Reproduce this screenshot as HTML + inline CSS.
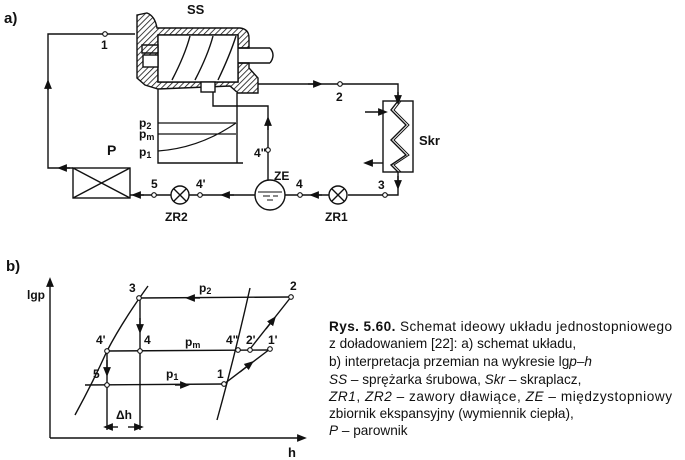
<!DOCTYPE html>
<html><head><meta charset="utf-8"><style>
html,body{margin:0;padding:0;background:#fff;}
svg{display:block}
text{font-family:"Liberation Sans",Arial,sans-serif;font-weight:bold;fill:#111}
.cap{font-family:"Liberation Sans",sans-serif;font-weight:normal;font-size:13.6px;fill:#111}
</style></head><body>
<svg width="685" height="460" viewBox="0 0 685 460" xmlns="http://www.w3.org/2000/svg">
<defs>
<pattern id="h" width="4" height="4" patternUnits="userSpaceOnUse" patternTransform="rotate(45)">
<rect width="4" height="4" fill="#fff"/><line x1="0" y1="0" x2="0" y2="4" stroke="#111" stroke-width="1.6"/></pattern>
<marker id="a" viewBox="0 0 10 10" refX="5" refY="5" markerWidth="7" markerHeight="7" orient="auto"><path d="M0,1 L10,5 L0,9 z" fill="#111"/></marker>
</defs>
<g stroke="#111" stroke-width="1.4" fill="none">
<text x="4" y="23" font-size="15" stroke="none">a)</text>
<text x="187" y="14" font-size="13" stroke="none">SS</text>
<path d="M137,15 L147,13 Q155,16 157,28 L240,28 Q249,29 249,38 L249,48 L238,48 L238,35 L158,35 L158,82 L238,82 L238,63 L249,63 L249,68 L258,78 L258,93 L238,93 L230,86 L158,89 L145,85 L137,78 Z" fill="url(#h)"/>
<rect x="158" y="35" width="80" height="47" fill="#fff"/>
<path d="M142,45 L158,45 L158,53 L142,53 Z" fill="url(#h)"/>
<rect x="143" y="55" width="15" height="12" fill="#fff"/>
<path d="M172,80 Q185,55 190,36 M195,80 Q208,55 213,36 M218,80 Q230,55 236,36"/>
<path d="M238,48 L270,48 M238,63 L270,63 M270,48 Q276,55 270,63"/>
<rect x="201" y="82" width="14" height="10" fill="#fff"/>
<path d="M135,34 L48,34 L48,168 L73,168"/>
<path d="M48,90 L48,84" marker-end="url(#a)"/>
<path d="M70,168 L62,168" marker-end="url(#a)"/>
<rect x="73" y="168" width="57" height="30"/>
<path d="M73,168 L130,198 M130,168 L73,198"/>
<text x="107" y="155" font-size="14" stroke="none">P</text>
<path d="M258,84 L398,84 L398,101"/>
<path d="M308,84 L318,84" marker-end="url(#a)"/>
<path d="M398,92 L398,100" marker-end="url(#a)"/>
<rect x="383" y="101" width="30" height="71"/>
<path d="M398,101 L391,110 L406,125 L391,140 L406,155 L391,165 L398,172"/>
<path d="M401,101 L394,110 L409,125 L394,140 L409,155 L394,165 L401,172" stroke-width="1"/>
<path d="M365,112 L383,112" marker-end="url(#a)"/>
<path d="M383,163 L368,163" marker-end="url(#a)"/>
<text x="419" y="145" font-size="13" stroke="none">Skr</text>
<path d="M398,172 L398,195 L348,195"/>
<path d="M398,176 L398,185" marker-end="url(#a)"/>
<circle cx="338" cy="195" r="9" fill="#fff"/>
<path d="M332,189 L344,201 M344,189 L332,201"/>
<path d="M329,195 L285,195"/>
<path d="M322,195 L314,195" marker-end="url(#a)"/>
<circle cx="270" cy="195" r="15" fill="#fff"/>
<path d="M258,192 L282,192 M263,196 L270,196 M273,196 L278,196 M267,200 L273,200" stroke-width="1"/>
<path d="M268,180 L268,106 L213,106 L213,92"/>
<path d="M268,130 L268,121" marker-end="url(#a)"/>
<path d="M255,195 L189,195"/>
<path d="M234,195 L225,195" marker-end="url(#a)"/>
<circle cx="180" cy="195" r="9" fill="#fff"/>
<path d="M174,189 L186,201 M186,189 L174,201"/>
<path d="M171,195 L130,195"/>
<path d="M144,195 L136,195" marker-end="url(#a)"/>
<path d="M158,89 L158,163 L243,163 M237,93 L237,163"/>
<path d="M158,123 L236,123 M158,134 L236,134 M158,151 Q200,148 236,123" stroke-width="1.2"/>
<text x="139" y="127" font-size="12" stroke="none">p<tspan font-size="9" dy="2">2</tspan></text>
<text x="139" y="138" font-size="12" stroke="none">p<tspan font-size="9" dy="2">m</tspan></text>
<text x="139" y="156" font-size="12" stroke="none">p<tspan font-size="9" dy="2">1</tspan></text>
<g fill="#fff" stroke-width="1.1">
<circle cx="105" cy="34" r="2.3"/><circle cx="340" cy="84" r="2.3"/><circle cx="385" cy="195" r="2.3"/>
<circle cx="300" cy="195" r="2.3"/><circle cx="268" cy="150" r="2.3"/><circle cx="200" cy="195" r="2.3"/><circle cx="154" cy="195" r="2.3"/>
</g>
<g stroke="none" font-size="12">
<text x="101" y="49">1</text><text x="336" y="101">2</text><text x="378" y="189">3</text>
<text x="296" y="188">4</text><text x="254" y="157">4"</text><text x="196" y="188">4'</text><text x="151" y="188">5</text>
<text x="274" y="180">ZE</text><text x="325" y="221">ZR1</text><text x="165" y="221">ZR2</text>
</g>
<text x="6" y="271" font-size="15" stroke="none">b)</text>
<path d="M50,438 L50,282" marker-end="url(#a)"/>
<path d="M50,438 L302,438" marker-end="url(#a)"/>
<text x="27" y="299" font-size="12" stroke="none">lgp</text>
<text x="288" y="457" font-size="13" stroke="none">h</text>
<path d="M75,415 Q93,382 107,351 Q122,322 148,286"/>
<path d="M217,420 Q235,355 250,288"/>
<path d="M139,298 L291,297"/>
<path d="M200,298 L190,298" marker-end="url(#a)"/>
<path d="M140,298 L140,430"/>
<path d="M140,318 L140,329" marker-end="url(#a)"/>
<path d="M107,351 L270,350"/>
<path d="M107,351 L107,430"/>
<path d="M107,360 L107,372" marker-end="url(#a)"/>
<path d="M85,385 L224,384"/>
<path d="M175,385 L185,385" marker-end="url(#a)"/>
<path d="M224,384 L270,349"/>
<path d="M240,372 L250,364" marker-end="url(#a)"/>
<path d="M250,349 L291,297"/>
<path d="M266,329 L273,320" marker-end="url(#a)"/>
<path d="M118,427 L108,427" marker-end="url(#a)"/>
<path d="M128,427 L139,427" marker-end="url(#a)"/>
<g fill="#fff" stroke-width="1.1">
<circle cx="139" cy="298" r="2.3"/><circle cx="291" cy="297" r="2.3"/><circle cx="107" cy="351" r="2.3"/>
<circle cx="140" cy="351" r="2.3"/><circle cx="238" cy="350" r="2.3"/><circle cx="250" cy="350" r="2.3"/>
<circle cx="270" cy="349" r="2.3"/><circle cx="107" cy="385" r="2.3"/><circle cx="224" cy="384" r="2.3"/>
</g>
<g stroke="none" font-size="12">
<text x="129" y="292">3</text><text x="290" y="290">2</text>
<text x="199" y="292">p<tspan font-size="9" dy="2">2</tspan></text>
<text x="96" y="344">4'</text><text x="144" y="344">4</text>
<text x="185" y="346">p<tspan font-size="9" dy="2">m</tspan></text>
<text x="226" y="344">4"</text><text x="246" y="344">2'</text><text x="268" y="344">1'</text>
<text x="93" y="378">5</text><text x="166" y="378">p<tspan font-size="9" dy="2">1</tspan></text><text x="217" y="378">1</text>
<text x="116" y="419">Δh</text>
</g>
</g>
<g class="cap">
<text x="329" y="331" class="cap" textLength="343"><tspan font-weight="bold">Rys. 5.60.</tspan> Schemat ideowy układu jednostopniowego</text>
<text x="329" y="348" class="cap">z doładowaniem [22]: a) schemat układu,</text>
<text x="329" y="366" class="cap">b) interpretacja przemian na wykresie lg<tspan font-style="italic">p–h</tspan></text>
<text x="329" y="384" class="cap"><tspan font-style="italic">SS</tspan> – sprężarka śrubowa, <tspan font-style="italic">Skr</tspan> – skraplacz,</text>
<text x="329" y="401" class="cap" textLength="343"><tspan font-style="italic">ZR1</tspan>, <tspan font-style="italic">ZR2</tspan> – zawory dławiące, <tspan font-style="italic">ZE</tspan> – międzystopniowy</text>
<text x="329" y="418" class="cap">zbiornik ekspansyjny (wymiennik ciepła),</text>
<text x="329" y="435" class="cap"><tspan font-style="italic">P</tspan> – parownik</text>
</g>
</svg>
</body></html>
